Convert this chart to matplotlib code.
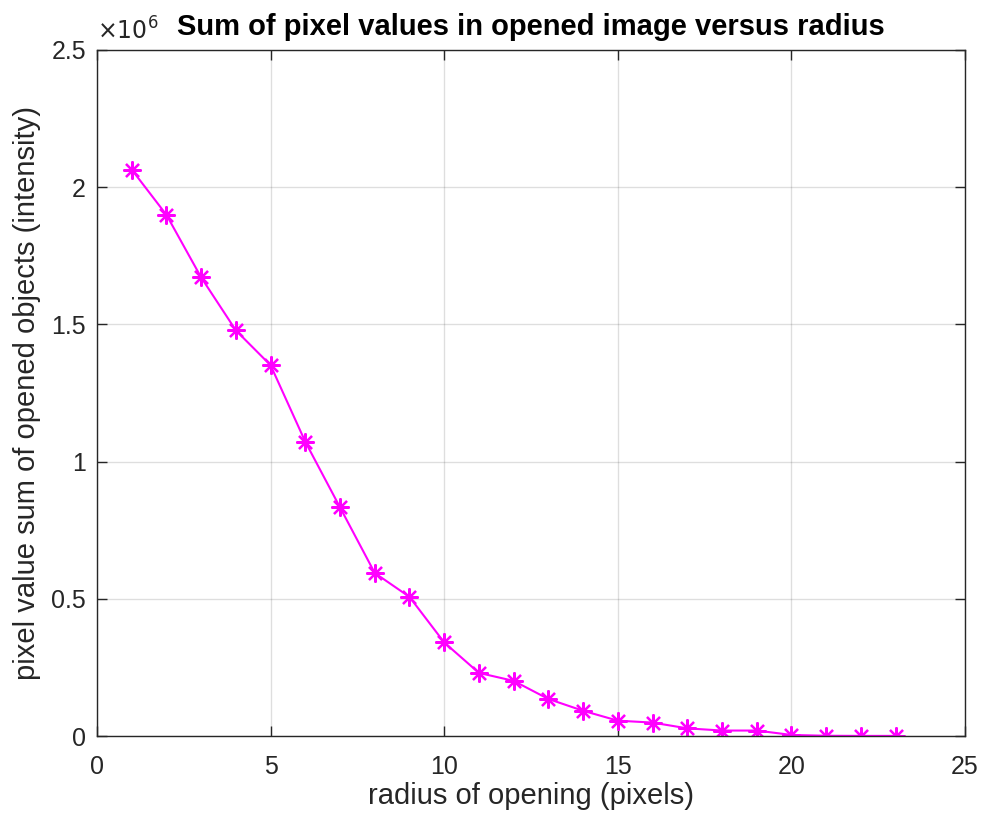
import matplotlib
matplotlib.use("Agg")
import matplotlib.pyplot as plt
from matplotlib.ticker import FuncFormatter

radius = list(range(1, 24))
pixel_sum = [2.064e6, 1.899e6, 1.671e6, 1.478e6, 1.351e6, 1.072e6, 0.833e6,
             0.594e6, 0.507e6, 0.341e6, 0.230e6, 0.201e6, 0.135e6, 0.092e6,
             0.056e6, 0.049e6, 0.028e6, 0.020e6, 0.020e6, 0.004e6, 0.001e6,
             0.0005e6, 0.0005e6]
x_ticks = [0, 5, 10, 15, 20, 25]
y_ticks = [0, 0.5e6, 1e6, 1.5e6, 2e6, 2.5e6]

plt.rcParams['font.family'] = ['Liberation Sans', 'DejaVu Sans']
fig = plt.figure(figsize=(9.82, 8.19), dpi=100)
ax = fig.add_axes([0.0988, 0.1013, 0.8839, 0.8377])

ax.plot(radius, pixel_sum, color=(1, 0, 1), lw=1.5, marker=(8, 2, 0),
        markersize=13, markeredgewidth=1.6, markeredgecolor=(1, 0, 1))

ax.set_xlim(0, 25)
ax.set_ylim(0, 2.5e6)
ax.set_xticks(x_ticks)
ax.set_yticks(y_ticks)
ax.yaxis.set_major_formatter(FuncFormatter(lambda v, p: f"{v/1e6:g}"))
ax.grid(True, color=(0.15, 0.15, 0.15), alpha=0.15, lw=1.0)
ax.set_axisbelow(True)
ax.tick_params(direction='in', length=7, width=1.0, colors=(0.15, 0.15, 0.15),
               labelsize=18, top=True, right=True)
ax.tick_params(axis='x', pad=14)
ax.tick_params(axis='y', pad=8)
for s in ax.spines.values():
    s.set_color((0.15, 0.15, 0.15))
    s.set_linewidth(1.0)

ax.set_xlabel('radius of opening (pixels)', fontsize=21, color=(0.15, 0.15, 0.15), labelpad=2)
ax.set_ylabel('pixel value sum of opened objects (intensity)', fontsize=21,
              color=(0.15, 0.15, 0.15), labelpad=7)
ax.set_title('Sum of pixel values in opened image versus radius', fontsize=21,
             fontweight='bold', color='black', pad=11, x=0.5)
ax.text(0.0, 1.008, r'$\times10^{6}$', transform=ax.transAxes, fontsize=17,
        color=(0.15, 0.15, 0.15), va='bottom', ha='left')

fig.savefig('out.png', dpi=100)
